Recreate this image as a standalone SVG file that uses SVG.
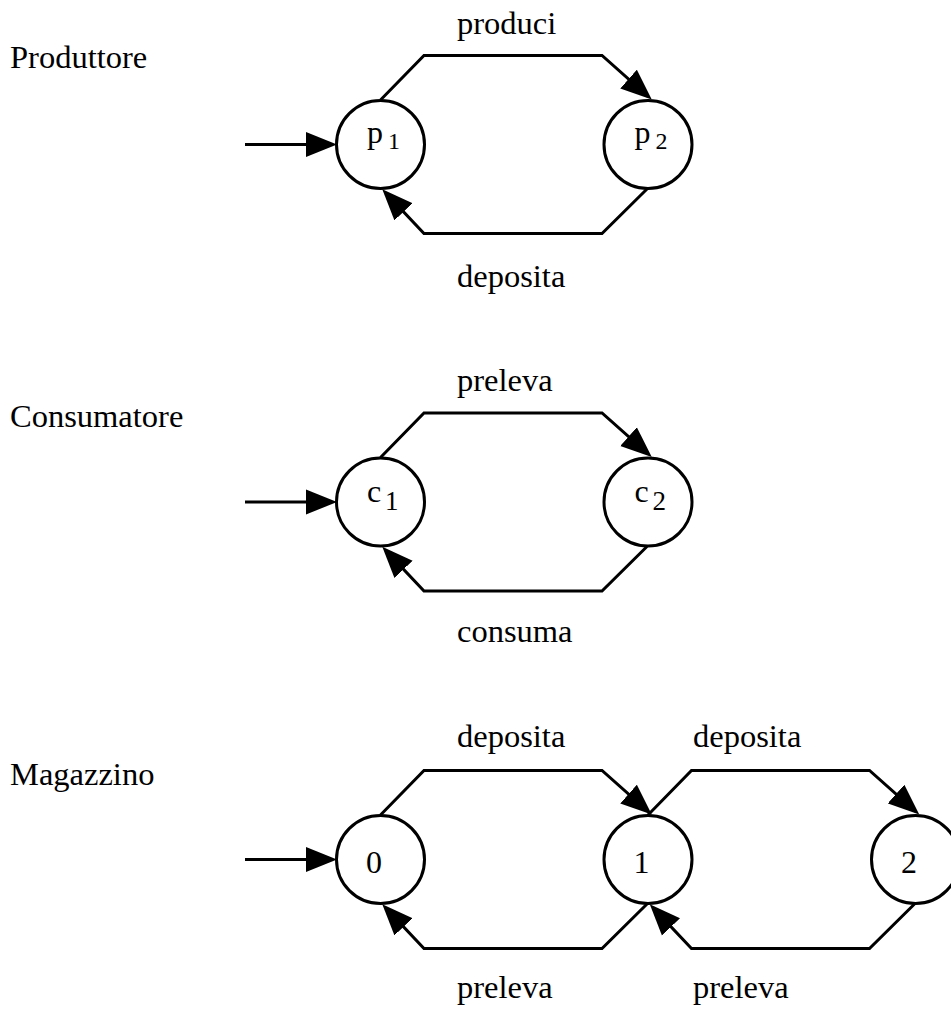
<svg xmlns="http://www.w3.org/2000/svg" width="951" height="1017" viewBox="0 0 951 1017">
  <style>
    .lbl { font-size: 32.5px; }
    .state { fill: #fff; stroke: #000; stroke-width: 3; }
    .edge { fill: none; stroke: #000; stroke-width: 3; stroke-linejoin: miter; marker-end: url(#arrow); }
    .main { font-size: 32px; }
  </style>
  <defs>
    <marker id="arrow" markerUnits="userSpaceOnUse" viewBox="0 -13 31 26" markerWidth="31" markerHeight="26" refX="26" refY="0" orient="auto">
      <path d="M0,-12.5 L31,0 L0,12.5 Z" fill="#000"/>
    </marker>
  </defs>
  <rect width="951" height="1017" fill="#fff"/>

  <g font-family="'Liberation Serif', Tinos, 'Times New Roman', 'DejaVu Serif', serif" fill="#000">
  <!-- automaton titles -->
  <g id="titles" class="lbl">
    <text x="10" y="68">Produttore</text>
    <text x="10" y="427">Consumatore</text>
    <text x="10" y="785">Magazzino</text>
  </g>

  <!-- transition labels -->
  <g id="edge-labels" class="lbl">
    <text x="457" y="34">produci</text>
    <text x="457" y="287">deposita</text>
    <text x="457" y="391">preleva</text>
    <text x="457" y="642">consuma</text>
    <text x="457" y="747">deposita</text>
    <text x="693" y="747">deposita</text>
    <text x="457" y="998">preleva</text>
    <text x="693" y="998">preleva</text>
  </g>
  </g>

  <!-- transitions -->
  <g id="connectors">
    <!-- Produttore -->
    <path class="edge" d="M245,144.5 L332,144.5"/>
    <path class="edge" d="M380.5,100 L424,55.5 L602,55.5 L648,96.3"/>
    <path class="edge" d="M647,189 L602,233.5 L424,233.5 L385.7,192.9"/>
    <!-- Consumatore -->
    <path class="edge" d="M245,502 L332,502"/>
    <path class="edge" d="M380.5,457.5 L424,413 L602,413 L648,453.8"/>
    <path class="edge" d="M647,546.5 L602,591 L424,591 L385.7,550.4"/>
    <!-- Magazzino -->
    <path class="edge" d="M245,859.5 L332,859.5"/>
    <path class="edge" d="M380.5,815 L424,770.5 L602,770.5 L648,811.3"/>
    <path class="edge" d="M647,904 L602,948.5 L424,948.5 L385.7,907.9"/>
    <path class="edge" d="M648,815 L691.5,770.5 L869.5,770.5 L915.5,811.3"/>
    <path class="edge" d="M914.5,904 L869.5,948.5 L691.5,948.5 L653.2,907.9"/>
  </g>

  <!-- states -->
  <g font-family="'Liberation Serif', Tinos, 'Times New Roman', 'DejaVu Serif', serif" fill="#000">
  <g id="p1">
    <circle class="state" cx="380.5" cy="144.5" r="44"/>
    <text x="367" y="143" class="main">p</text><text x="388" y="148.5" font-size="24">1</text>
  </g>
  <g id="p2">
    <circle class="state" cx="648" cy="144.5" r="44"/>
    <text x="634.5" y="143" class="main">p</text><text x="655.5" y="148.5" font-size="24">2</text>
  </g>
  <g id="c1">
    <circle class="state" cx="380.5" cy="502" r="44"/>
    <text x="367" y="502" class="main">c</text><text x="385" y="510" font-size="27">1</text>
  </g>
  <g id="c2">
    <circle class="state" cx="648" cy="502" r="44"/>
    <text x="634.5" y="502" class="main">c</text><text x="652.5" y="510" font-size="27">2</text>
  </g>
  <g id="m0">
    <circle class="state" cx="380.5" cy="859.5" r="44"/>
    <text x="366" y="873" class="main">0</text>
  </g>
  <g id="m1">
    <circle class="state" cx="648" cy="859.5" r="44"/>
    <text x="633.5" y="873" class="main">1</text>
  </g>
  <g id="m2">
    <circle class="state" cx="915.5" cy="859.5" r="44"/>
    <text x="901" y="873" class="main">2</text>
  </g>
  </g>
</svg>
